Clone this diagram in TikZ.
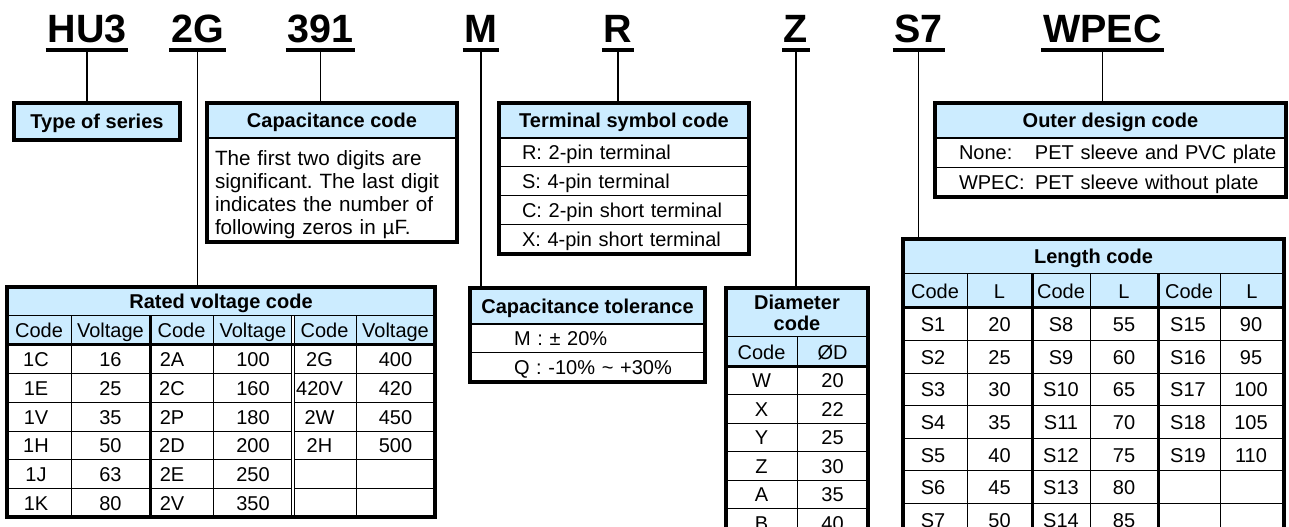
\documentclass[tikz,border=0pt]{standalone}
\usepackage{fontspec}
\setmainfont{Liberation Sans}
\usetikzlibrary{positioning}
\definecolor{hdrblue}{RGB}{204,236,255}
\frenchspacing
\newcommand\odlabel[1]{\makebox[57pt][l]{#1}}
\tikzset{
  codetxt/.style={font=\fontsize{29.6}{30}\selectfont\bfseries,inner xsep=1.2pt,inner ysep=0pt,anchor=base},
  uline/.style={line width=3pt},
  leadline/.style={line width=1.4pt},
  hdr/.style={draw,line width=1.5pt,fill=hdrblue,font=\fontsize{15}{18}\selectfont\bfseries,inner sep=0pt,outer sep=0pt,text height=10.7pt,text depth=0pt},
  brow/.style={draw,line width=0.75pt,font=\fontsize{15}{18}\selectfont,inner sep=0pt,outer sep=0pt,align=left,text height=10.7pt,text depth=0pt},
  boxline/.style={line width=2.4pt},
  gridline/.style={line width=0.75pt},
  grpline/.style={line width=2.25pt},
  celltxt/.style={font=\fontsize{15}{18}\selectfont,inner sep=0pt,anchor=base},
  tsrow/.style={brow,minimum height=21.75pt,text width=187.5pt,execute at begin node=\hspace*{17.25pt}},
  odrow/.style={brow,minimum height=22.1pt,text width=263.25pt,execute at begin node=\hspace*{18pt}},
  ctrow/.style={brow,minimum height=21.75pt,text width=176.25pt,execute at begin node=\hspace*{33pt}}
}
\begin{document}
\begin{tikzpicture}[x=0.75pt,y=-0.75pt]
\useasboundingbox (0,0) rectangle (1289,527);
\clip (0,0) rectangle (1289,527);

% part number with underlines
\foreach \n/\t/\x in {hu3/HU3/87,c2g/2G/197.5,c391/391/320.5,cm/M/481,cr/R/618,cz/Z/796,cs7/S7/918.5,cwpec/WPEC/1102.5}{
  \node[codetxt] (\n) at (\x,43) {\t};
  \draw[uline] ([yshift=-5.25pt]\n.base west) -- ([yshift=-5.25pt]\n.base east);
  \coordinate (\n-u) at ([yshift=-5.25pt]\n.base);
}

% type of series
\node[hdr,minimum width=124.5pt,minimum height=27.75pt,anchor=north] (tos) at (97,103) {Type of series};
\draw[boxline] (tos.north west) rectangle (tos.south east);

% capacitance code
\node[hdr,minimum width=187.5pt,minimum height=26.25pt,anchor=north] (cc0) at (332,103) {Capacitance code};
\node[draw,line width=0.75pt,inner xsep=6pt,inner ysep=0pt,outer sep=0pt,text width=175.5pt,minimum height=78pt,align=left,
  font=\fontsize{15.5}{17.25}\selectfont,below=0pt of cc0] (cc1)
  {\rule{0pt}{18.5pt}The first two digits are\\significant. The last digit\\indicates the number of\\following zeros in µF.};
\draw[boxline] (cc0.north west) rectangle (cc1.south east);

% terminal symbol code
\node[hdr,minimum width=187.5pt,minimum height=26.25pt,anchor=north] (ts0) at (624,103) {Terminal symbol code};
\foreach \i/\t [remember=\i as \j (initially 0)] in {1/R: 2-pin terminal,2/S: 4-pin terminal,3/C: 2-pin short terminal,4/X: 4-pin short terminal}
  \node[tsrow,below=0pt of ts\j] (ts\i) {\t};
\draw[boxline] (ts0.north west) rectangle (ts4.south east);

% outer design code
\node[hdr,minimum width=263.25pt,minimum height=26.25pt,anchor=north] (od0) at (1110.5,103) {Outer design code};
\node[odrow,below=0pt of od0] (od1) {\odlabel{None:}PET sleeve and PVC plate};
\node[odrow,below=0pt of od1] (od2) {\odlabel{WPEC:}PET sleeve without plate};
\draw[boxline] (od0.north west) rectangle (od2.south east);

% capacitance tolerance
\node[hdr,minimum width=176.25pt,minimum height=27pt,anchor=north] (ct0) at (587.5,288) {Capacitance tolerance};
\node[ctrow,below=0pt of ct0] (ct1) {M : ± 20\%};
\node[ctrow,below=0pt of ct1] (ct2) {Q : -10\% \textasciitilde{} +30\%};
\draw[boxline] (ct0.north west) rectangle (ct2.south east);

% rated voltage code
\node[hdr,minimum width=321pt,minimum height=21.75pt,anchor=north west] (rv) at (7,287) {Rated voltage code};
\fill[hdrblue] (7,316) rectangle (435,345);
\foreach \y in {373.67,402.33,431,459.67,488.33} \draw[gridline] (7,\y) -- (435,\y);
\foreach \x in {71,213,356} \draw[gridline] (\x,316) -- (\x,517);
\draw[grpline] (150,316) -- (150,517);
\draw[gridline,double,double distance=1.5pt] (293,316) -- (293,517);
\draw[grpline] (7,345) -- (435,345);
\draw[boxline] (7,287) rectangle (435,517);
\foreach \x/\t [count=\k] in {39/Code,110.5/Voltage,181.5/Code,253/Voltage,324.5/Code,395.5/Voltage}
  \node[celltxt] (rvh\k) at (\x,338) {\t};
\foreach \c/\v [count=\r] in {1C/16,1E/25,1V/35,1H/50,1J/63,1K/80}{
  \node[celltxt] (rva\r) at (36,{345+(\r-0.5)*28.667+7.5}) {\c};
  \node[celltxt] (rvb\r) at (110.5,{345+(\r-0.5)*28.667+7.5}) {\v};
}
\foreach \c/\v [count=\r] in {2A/100,2C/160,2P/180,2D/200,2E/250,2V/350}{
  \node[celltxt] (rvc\r) at (172,{345+(\r-0.5)*28.667+7.5}) {\c};
  \node[celltxt] (rvd\r) at (253,{345+(\r-0.5)*28.667+7.5}) {\v};
}
\foreach \c/\v [count=\r] in {2G/400,420V/420,2W/450,2H/500}{
  \node[celltxt] (rve\r) at (319.5,{345+(\r-0.5)*28.667+7.5}) {\c};
  \node[celltxt] (rvf\r) at (395.5,{345+(\r-0.5)*28.667+7.5}) {\v};
}

% diameter code
\node[hdr,text height={},text depth={},align=center,font=\fontsize{15}{15.75}\selectfont\bfseries,
  minimum width=106.5pt,minimum height=36.75pt,anchor=north west] (dm) at (726,288) {Diameter\\code};
\fill[hdrblue] (726,337) rectangle (868,366);
\foreach \y in {394.5,423,451.5,480,508.5} \draw[gridline] (726,\y) -- (868,\y);
\draw[gridline] (797,337) -- (797,537);
\draw[grpline] (726,366) -- (868,366);
\draw[boxline] (726,288) rectangle (868,537);
\node[celltxt] (dmh1) at (761.5,359) {Code};
\node[celltxt] (dmh2) at (832.5,359) {ØD};
\foreach \c/\v [count=\r] in {W/20,X/22,Y/25,Z/30,A/35,B/40}{
  \node[celltxt] (dma\r) at (761.5,{366+(\r-0.5)*28.5+7.5}) {\c};
  \node[celltxt] (dmb\r) at (832.5,{366+(\r-0.5)*28.5+7.5}) {\v};
}

% length code
\node[hdr,minimum width=285.75pt,minimum height=26.25pt,anchor=north west] (ln) at (903,239) {Length code};
\fill[hdrblue] (903,274) rectangle (1284,308);
\foreach \y in {340.57,373.14,405.71,438.29,470.86,503.43} \draw[gridline] (903,\y) -- (1284,\y);
\foreach \x in {967,1090,1220} \draw[gridline] (\x,274) -- (\x,536);
\foreach \x in {1032,1158} \draw[grpline] (\x,274) -- (\x,536);
\draw[grpline] (903,308) -- (1284,308);
\draw[boxline] (903,239) rectangle (1284,536);
\foreach \x/\t [count=\k] in {935/Code,999.5/L,1061/Code,1124/L,1189/Code,1252/L}
  \node[celltxt] (lnh\k) at (\x,298.5) {\t};
\foreach \c/\v [count=\r] in {S1/20,S2/25,S3/30,S4/35,S5/40,S6/45,S7/50}{
  \node[celltxt] (lna\r) at (933,{308+(\r-0.5)*32.571+7.5}) {\c};
  \node[celltxt] (lnb\r) at (999.5,{308+(\r-0.5)*32.571+7.5}) {\v};
}
\foreach \c/\v [count=\r] in {S8/55,S9/60,S10/65,S11/70,S12/75,S13/80,S14/85}{
  \node[celltxt] (lnc\r) at (1061,{308+(\r-0.5)*32.571+7.5}) {\c};
  \node[celltxt] (lnd\r) at (1124,{308+(\r-0.5)*32.571+7.5}) {\v};
}
\foreach \c/\v [count=\r] in {S15/90,S16/95,S17/100,S18/105,S19/110}{
  \node[celltxt] (lne\r) at (1188,{308+(\r-0.5)*32.571+7.5}) {\c};
  \node[celltxt] (lnf\r) at (1251,{308+(\r-0.5)*32.571+7.5}) {\v};
}

% leader lines
\draw[leadline] (hu3-u) -- (hu3-u |- tos.north);
\draw[leadline] (c2g-u) -- (c2g-u |- rv.north);
\draw[leadline] (c391-u) -- (c391-u |- cc0.north);
\draw[leadline] (cm-u) -- (cm-u |- ct0.north);
\draw[leadline] (cr-u) -- (cr-u |- ts0.north);
\draw[leadline] (cz-u) -- (cz-u |- dm.north);
\draw[leadline] (cs7-u) -- (cs7-u |- ln.north);
\draw[leadline] (cwpec-u) -- (cwpec-u |- od0.north);
\end{tikzpicture}
\end{document}
